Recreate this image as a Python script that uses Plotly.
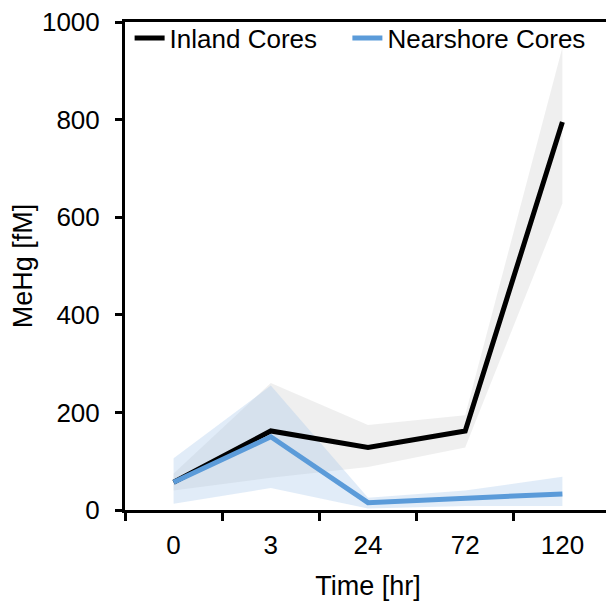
import plotly.graph_objects as go

time_labels = ["0", "3", "24", "72", "120"]

inland_mean = [57, 162, 128, 162, 795]
inland_upper = [75, 260, 174, 194, 948]
inland_lower = [40, 66, 88, 128, 628]

near_mean = [57, 150, 15, 25, 33]
near_upper = [106, 255, 25, 40, 68]
near_lower = [13, 45, 3, 8, 8]

FONT = "Arial, Liberation Sans, sans-serif"

fig = go.Figure()

# Bands
fig.add_trace(go.Scatter(
    x=time_labels + time_labels[::-1],
    y=inland_upper + inland_lower[::-1],
    fill="toself", fillcolor="rgba(205,205,205,0.33)",
    line=dict(width=0), mode="lines", showlegend=False, hoverinfo="skip"))
fig.add_trace(go.Scatter(
    x=time_labels + time_labels[::-1],
    y=near_upper + near_lower[::-1],
    fill="toself", fillcolor="rgba(170,200,235,0.35)",
    line=dict(width=0), mode="lines", showlegend=False, hoverinfo="skip"))

# Lines
fig.add_trace(go.Scatter(
    x=time_labels, y=inland_mean, mode="lines", name="Inland Cores",
    line=dict(color="black", width=5), legend="legend"))
fig.add_trace(go.Scatter(
    x=time_labels, y=near_mean, mode="lines", name="Nearshore Cores",
    line=dict(color="#5b9bd9", width=5), legend="legend2"))

legend_common = dict(orientation="h", xanchor="left", yanchor="top",
                     bgcolor="rgba(0,0,0,0)", font=dict(size=26))

fig.update_layout(
    width=606, height=594,
    margin=dict(l=117, r=3, t=14, b=92),
    paper_bgcolor="white", plot_bgcolor="white",
    font=dict(family=FONT, size=26, color="black"),
    legend=dict(x=0.0095, y=1.015, **legend_common),
    legend2=dict(x=0.4576, y=1.015, **legend_common),
)
fig.update_xaxes(
    type="category", range=[-0.5, 4.5], tickson="boundaries",
    showline=True, linecolor="black", linewidth=3, mirror=True,
    ticks="outside", ticklen=8, tickwidth=3, tickcolor="black",
    showgrid=False, zeroline=False, automargin=False, ticklabelstandoff=10,
    ticklabeloverflow="allow", tickfont=dict(size=26),
    title=dict(text="Time [hr]", font=dict(size=27), standoff=17),
)
fig.update_yaxes(
    range=[0, 1000], tickvals=[0, 200, 400, 600, 800, 1000],
    showline=True, linecolor="black", linewidth=3, mirror=True,
    ticks="outside", ticklen=7, tickwidth=3, tickcolor="black",
    showgrid=False, zeroline=False, ticklabelstandoff=10, automargin=False,
    ticklabeloverflow="allow", tickfont=dict(size=26),
    title=dict(text="MeHg [fM]", font=dict(size=27), standoff=10),
)

fig.write_html("out.html")
